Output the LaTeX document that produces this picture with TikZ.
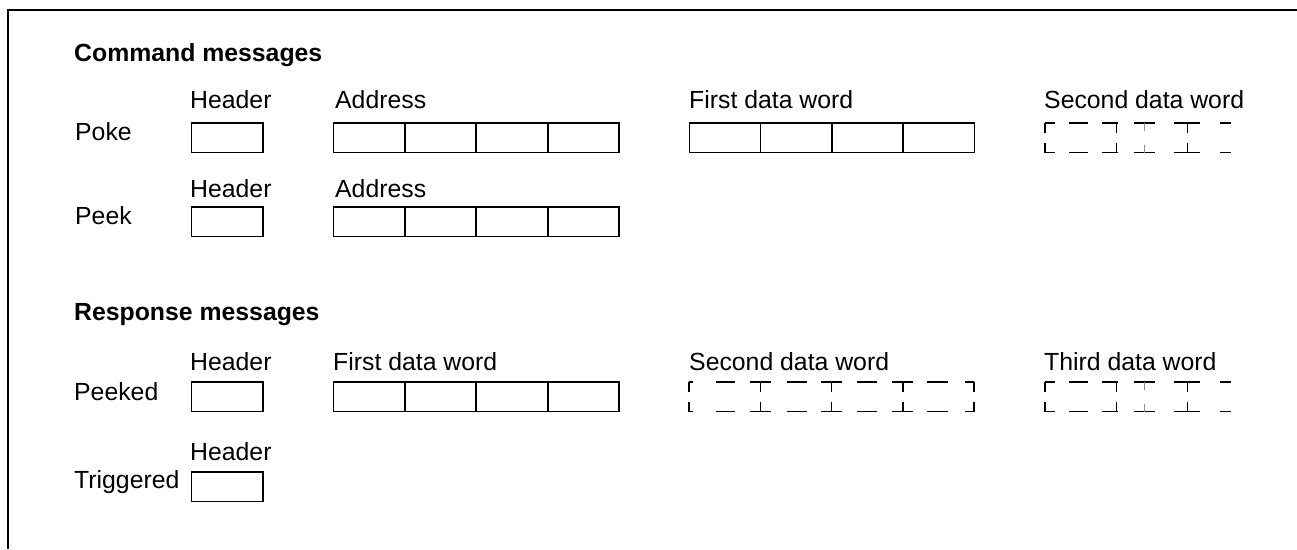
\documentclass[tikz,border=0pt]{standalone}
\usepackage{fontspec}
\setmainfont{Liberation Sans}
\begin{document}
\begin{tikzpicture}[x=1pt,y=-1pt,
  lbl/.style={anchor=base west,inner sep=0pt,font=\fontsize{24.8}{29}\selectfont},
  head/.style={anchor=base west,inner sep=0pt,font=\fontsize{24.8}{29}\selectfont\bfseries},
  cell/.style={draw,line width=1.5pt,minimum width=71.3pt,minimum height=29.5pt,inner sep=0pt,outer sep=0pt,anchor=north west},
  dsh/.style={line width=1.5pt},
  faint/.style={line width=0.6pt,black!45},
  frame/.style={line width=2.2pt}]
\useasboundingbox (0,0) rectangle (1297,549);
% frame
\coordinate (fa) at (8,549);
\coordinate (fb) at (8,10);
\coordinate (fc) at (1297,10);
\draw[frame] (fa) -- (fb) -- (fc);

% headings
\node[head] (cmd) at (74,61) {Command messages};
\node[head] (rsp) at (74,320) {Response messages};

% ---- Poke
\node[lbl] (poke) at (75,140) {Poke};
\node[lbl] (pokeH) at (190,108) {Header};
\node[lbl] (pokeA) at (335,108) {Address};
\node[lbl] (pokeD1) at (689,108) {First data word};
\node[lbl] (pokeD2) at (1044,108) {Second data word};
\node[cell] (pokeh) at (191.7,123) {};
\foreach \i in {0,...,3} \node[cell] (pokea\i) at (333.3+71.5*\i,123) {};
\foreach \i in {0,...,3} \node[cell] (poked\i) at (689.3+71.25*\i,123) {};

% ---- Peek
\node[lbl] (peek) at (75,224) {Peek};
\node[lbl] (peekH) at (190,197) {Header};
\node[lbl] (peekA) at (335,197) {Address};
\node[cell] (peekh) at (191.7,207) {};
\foreach \i in {0,...,3} \node[cell] (peeka\i) at (333.3+71.5*\i,207) {};

% ---- Peeked
\node[lbl] (peeked) at (74,400) {Peeked};
\node[lbl] (pkdH) at (190,370) {Header};
\node[lbl] (pkdD1) at (333,370) {First data word};
\node[lbl] (pkdD2) at (689,370) {Second data word};
\node[lbl] (pkdD3) at (1044,370) {Third data word};
\node[cell] (pkdh) at (191.7,382) {};
\foreach \i in {0,...,3} \node[cell] (pkdd\i) at (333.3+71.5*\i,382) {};

% ---- Triggered
\node[lbl] (trig) at (74,488) {Triggered};
\node[lbl] (trigH) at (190,460) {Header};
\node[cell] (trigh) at (191.7,472) {};

% ---- dashed words, partly shown (second data word of Poke, third of Peeked)
\foreach \yy in {123,382} {
  \foreach \a/\b in {0/10,24/43,57/73,89/110,129/155,175/186} {
    \draw[dsh] (1045+\a,\yy) -- (1045+\b,\yy);
    \draw[dsh] (1045+\a,\yy+29.5) -- (1045+\b,\yy+29.5);
  }
  \foreach \v in {0,71.5,142.5} {
    \draw[dsh] (1045+\v,\yy) -- (1045+\v,\yy+10);
    \draw[dsh] (1045+\v,\yy+19.5) -- (1045+\v,\yy+29.5);
  }
  \draw[faint] (1144,\yy) -- (1144,\yy+8);
  \draw[faint] (1144,\yy+21.5) -- (1144,\yy+29.5);
}

% ---- dashed second data word of Peeked (complete)
\foreach \a/\b in {0/4,27/46,61/82,98/118,132/153,168/188,203/224,238/259,276/285} {
  \draw[dsh] (689+\a,382) -- (689+\b,382);
  \draw[dsh] (689+\a,411.5) -- (689+\b,411.5);
}
\foreach \v in {0,71.25,142.5,213.75,285} {
  \draw[dsh] (689+\v,382) -- (689+\v,392);
  \draw[dsh] (689+\v,401.5) -- (689+\v,411.5);
}
\end{tikzpicture}
\end{document}
